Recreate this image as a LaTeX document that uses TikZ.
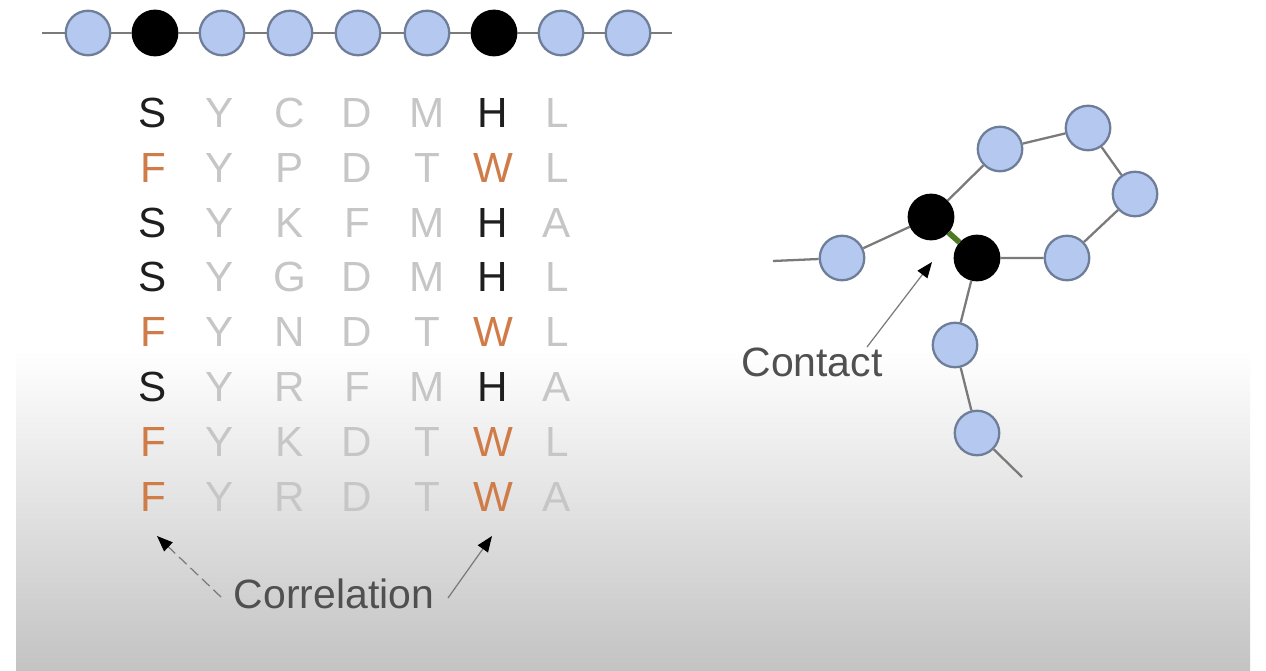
\documentclass[tikz,border=0pt]{standalone}
\usepackage{fontspec}
\setmainfont{Liberation Sans}
\usetikzlibrary{arrows.meta}
\definecolor{beadfill}{HTML}{B4C8F0}
\definecolor{beadline}{HTML}{6E7E98}
\definecolor{chain}{HTML}{7A7A7A}
\definecolor{dk}{HTML}{1E1E1E}
\definecolor{org}{HTML}{D07C48}
\definecolor{lg}{HTML}{C6C6C6}
\definecolor{lbl}{HTML}{505050}
\definecolor{bond}{HTML}{4C7A22}
\definecolor{bgbottom}{HTML}{C3C3C3}
\begin{document}
\begin{tikzpicture}[x=0.02cm,y=-0.02cm,
  bead/.style={circle,draw=beadline,fill=beadfill,line width=1.3pt,minimum size=0.89cm,inner sep=0pt},
  hot/.style={circle,draw=black,fill=black,line width=1.3pt,minimum size=0.89cm,inner sep=0pt},
  link/.style={draw=chain,line width=1.3pt},
  res/.style={font=\fontsize{24}{24}\selectfont,inner sep=0pt},
  lab/.style={font=\fontsize{23.3}{23.3}\selectfont,text=lbl,inner sep=0pt},
  pointer/.style={draw=chain,line width=0.7pt,-{Triangle[length=9pt,width=7pt,fill=black,color=black]}}
]
\useasboundingbox (0,0) rectangle (1266,671);
\fill[white] (0,0) rectangle (1266,671);
\shade[top color=white,bottom color=bgbottom] (16,350) rectangle (1250,671);

% top chain
\coordinate (cl) at (42,33);
\coordinate (cr) at (672,33);
\node[bead] (c1) at (88,33) {};
\node[hot]  (c2) at (155,33) {};
\node[bead] (c3) at (222,33) {};
\node[bead] (c4) at (290,33) {};
\node[bead] (c5) at (358,33) {};
\node[bead] (c6) at (427,33) {};
\node[hot]  (c7) at (494,33) {};
\node[bead] (c8) at (561,33) {};
\node[bead] (c9) at (628,33) {};
\draw[link] (cl) -- (c1) -- (c2) -- (c3) -- (c4) -- (c5) -- (c6) -- (c7) -- (c8) -- (c9) -- (cr);

% alignment
\foreach \k/\a/\b/\c/\d/\e/\f/\g [count=\i] in {
  dk/S/Y/C/D/M/H/L,
  org/F/Y/P/D/T/W/L,
  dk/S/Y/K/F/M/H/A,
  dk/S/Y/G/D/M/H/L,
  org/F/Y/N/D/T/W/L,
  dk/S/Y/R/F/M/H/A,
  org/F/Y/K/D/T/W/L,
  org/F/Y/R/D/T/W/A}{
  \pgfmathsetmacro{\yy}{113+54.8*(\i-1)}
  \node[res,text=\k] (r\i c1) at (153,\yy) {\a};
  \node[res,text=lg] (r\i c2) at (220,\yy) {\b};
  \node[res,text=lg] (r\i c3) at (290,\yy) {\c};
  \node[res,text=lg] (r\i c4) at (357,\yy) {\d};
  \node[res,text=lg] (r\i c5) at (427,\yy) {\e};
  \node[res,text=\k] (r\i c6) at (493,\yy) {\f};
  \node[res,text=lg] (r\i c7) at (557,\yy) {\g};
}

% correlation label
\node[lab] (corr) at (334,594) {Correlation};
\coordinate (cla) at (221,597);
\coordinate (clt) at (157,536);
\coordinate (cra) at (448,598);
\coordinate (crt) at (492,536);
\draw[pointer,dash pattern=on 6pt off 3pt] (cla) -- (clt);
\draw[pointer] (cra) -- (crt);

% contact graph
\coordinate (g0) at (773,261);
\node[bead] (gA)  at (842,258) {};
\node[hot]  (gB1) at (931,217) {};
\node[hot]  (gB2) at (977,258) {};
\node[bead] (gT1) at (1000,149) {};
\node[bead] (gT2) at (1088,128) {};
\node[bead] (gR)  at (1135,194) {};
\node[bead] (gRL) at (1067,258) {};
\node[bead] (gD1) at (955,345) {};
\node[bead] (gD2) at (977,433) {};
\coordinate (gE) at (1022,477);
\draw[link] (g0) -- (gA) -- (gB1) -- (gT1) -- (gT2) -- (gR) -- (gRL) -- (gB2) -- (gD1) -- (gD2) -- (gE);
\draw[draw=bond,line width=3.2pt] (gB1) -- (gB2);

\node[lab] (contact) at (812,362) {Contact};
\coordinate (cta) at (867,347);
\coordinate (ctt) at (932,262);
\draw[pointer] (cta) -- (ctt);
\end{tikzpicture}
\end{document}
